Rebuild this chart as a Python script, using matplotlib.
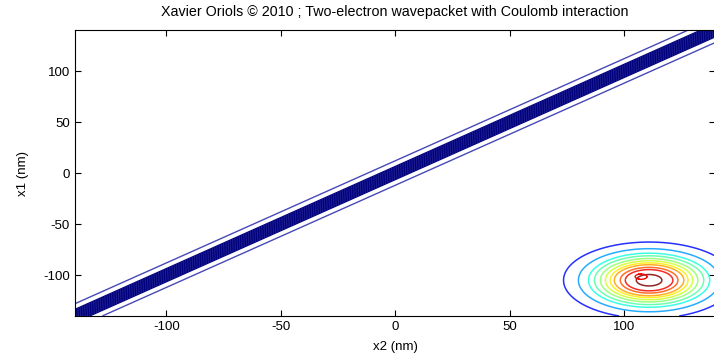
import numpy as np
import matplotlib
matplotlib.use("Agg")
import matplotlib.pyplot as plt

plt.rcParams['font.family'] = ['Liberation Sans', 'DejaVu Sans']
plt.rcParams['axes.unicode_minus'] = False
plt.rcParams['contour.negative_linestyle'] = 'solid'

# Axis setup
x_ticks = [-100, -50, 0, 50, 100]
y_ticks = [-100, -50, 0, 50, 100]
x_lim = [-140, 140]
y_lim = [-140, 140]
title = "Xavier Oriols \u00a9 2010 ; Two-electron wavepacket with Coulomb interaction"
xlabel = "x2 (nm)"
ylabel = "x1 (nm)"

# Coulomb band (distance x1 - x2 levels, nm)
band_inner_levels = [-6.5, -5.5, -4.5, -3.5, -2.5, -1.5, -0.5, 0.5, 1.5, 2.5, 3.5, 4.5, 5.5, 6.5]
band_outer_levels = [-12, 12]

# Wavepacket contours: center and contour radii (nm), outer to inner
packet_center_x2 = 111
packet_center_x1 = -105
packet_radii = [37.4, 30.9, 26.5, 23.9, 21.3, 19.1, 17.0, 15.2, 12.6, 10.4, 5.6]
packet_color_pos = [0.14, 0.28, 0.38, 0.45, 0.52, 0.60, 0.66, 0.74, 0.82, 0.90, 1.0]
# small secondary loop
loop_center_x2 = 107.5
loop_center_x1 = -101.5
loop_radius = 2.6

fig = plt.figure(figsize=(7.14, 3.55), dpi=100)
ax = fig.add_axes([0.105, 0.110, 0.897, 0.805])

x2 = np.linspace(-140, 140, 281)
x1 = np.linspace(-140, 140, 281)
X2, X1 = np.meshgrid(x2, x1)

D = X1 - X2
ax.contour(X2, X1, D, levels=band_outer_levels, colors=['#4848b8'], linewidths=1.0,
           linestyles='solid')
ax.contour(X2, X1, D, levels=band_inner_levels, colors=['#00007f'], linewidths=0.9,
           linestyles='solid')

R = np.sqrt((X2 - packet_center_x2)**2 + (X1 - packet_center_x1)**2)
cmap = matplotlib.colormaps['jet']
order = np.argsort(packet_radii)
levels = [packet_radii[i] for i in order]
colors = [cmap(packet_color_pos[i]) for i in order]
ax.contour(X2, X1, R, levels=levels, colors=colors, linewidths=1.1, alpha=0.85)

xs = np.linspace(100, 115, 151)
ys = np.linspace(-110, -95, 151)
XS, YS = np.meshgrid(xs, ys)
RS = np.sqrt((XS - loop_center_x2)**2 + (YS - loop_center_x1)**2)
ax.contour(XS, YS, RS, levels=[loop_radius], colors=[cmap(0.9)], linewidths=1.0)

ax.set_xlim(x_lim)
ax.set_ylim(y_lim)
ax.set_xticks(x_ticks)
ax.set_yticks(y_ticks)
ax.tick_params(direction='in', top=True, right=True, labelsize=9.5, length=4)
ax.set_xlabel(xlabel, fontsize=9.5, labelpad=6)
ax.set_ylabel(ylabel, fontsize=9.5, labelpad=10)
ax.set_title(title, fontsize=10.3, pad=10)

fig.savefig("out.png", dpi=100)
